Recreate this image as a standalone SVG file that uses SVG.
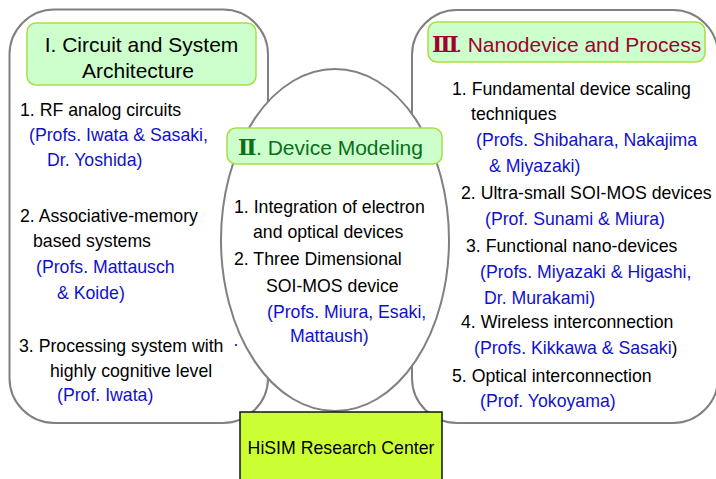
<svg xmlns="http://www.w3.org/2000/svg" width="716" height="479" viewBox="0 0 716 479">
<style>
.panel{fill:#ffffff;stroke:#808080;stroke-width:2}
.tbox{fill:#ccffcc;stroke:#aadd44;stroke-width:1.5}
text{font-family:"Liberation Sans",Arial,sans-serif;font-size:17.7px;fill:#000000}
.title{font-size:21px}
.b{fill:#1111cc}
.rn{font-family:"DejaVu Serif","Liberation Serif",serif;font-weight:bold;font-size:22px}
.g{fill:#0a6e1a}
.r{fill:#a00030}
</style>
<rect width="716" height="479" fill="#ffffff"/>
<g id="circuit-system">
<rect class="panel" x="9.5" y="9.5" width="258.5" height="413.5" rx="45" ry="45"/>
<rect class="tbox" x="27" y="23" width="229" height="62" rx="9"/>
<text class="title" x="141.5" y="52" text-anchor="middle">I. Circuit and System</text>
<text class="title" x="138" y="78" text-anchor="middle">Architecture</text>
<text x="20" y="116">1. RF analog circuits</text>
<text class="b" x="29" y="141">(Profs. Iwata &amp; Sasaki,</text>
<text class="b" x="47" y="166">Dr. Yoshida)</text>
<text x="20" y="222">2. Associative-memory</text>
<text x="33" y="247">based systems</text>
<text class="b" x="36" y="273">(Profs. Mattausch</text>
<text class="b" x="57" y="299">&amp; Koide)</text>
<text x="19" y="352">3. Processing system with</text>
<text class="b" x="233" y="350">·</text>
<text x="50" y="377">highly cognitive level</text>
<text class="b" x="57" y="401">(Prof. Iwata)</text>
</g>
<g id="nanodevice-process">
<rect class="panel" x="412" y="10" width="306" height="413" rx="45" ry="45"/>
<rect class="tbox" x="428" y="22" width="277" height="40" rx="9"/>
<text class="title r rn" x="432" y="52">Ⅲ</text>
<text class="title r" x="456" y="52">. Nanodevice and Process</text>
<text x="452" y="95">1. Fundamental device scaling</text>
<text x="471" y="120">techniques</text>
<text class="b" x="476" y="146">(Profs. Shibahara, Nakajima</text>
<text class="b" x="489" y="172">&amp; Miyazaki)</text>
<text x="461" y="199">2. Ultra-small SOI-MOS devices</text>
<text class="b" x="485" y="225">(Prof. Sunami &amp; Miura)</text>
<text x="466" y="252">3. Functional nano-devices</text>
<text class="b" x="480" y="278">(Profs. Miyazaki &amp; Higashi,</text>
<text class="b" x="484" y="304">Dr. Murakami)</text>
<text x="461" y="328">4. Wireless interconnection</text>
<text x="474" y="354"><tspan class="b">(Profs. Kikkawa &amp; Sasaki</tspan>)</text>
<text x="452" y="382">5. Optical interconnection</text>
<text class="b" x="480" y="407">(Prof. Yokoyama)</text>
</g>
<g id="device-modeling">
<ellipse class="panel" cx="335" cy="240" rx="114" ry="171"/>
<rect class="tbox" x="227" y="128" width="215" height="36" rx="9"/>
<text class="title g rn" x="238" y="155">Ⅱ</text>
<text class="title g" x="256" y="155">. Device Modeling</text>
<text x="234" y="213">1. Integration of electron</text>
<text x="253" y="238">and optical devices</text>
<text x="234" y="265">2. Three Dimensional</text>
<text x="266" y="292">SOI-MOS device</text>
<text class="b" x="267" y="318">(Profs. Miura, Esaki,</text>
<text class="b" x="290" y="342">Mattaush)</text>
</g>
<g id="hisim-center">
<rect x="240" y="412" width="202" height="80" fill="#ccff33" stroke="#111111" stroke-width="1.5"/>
<text x="341" y="454" text-anchor="middle" font-size="17.5">HiSIM Research Center</text>
</g>
</svg>
